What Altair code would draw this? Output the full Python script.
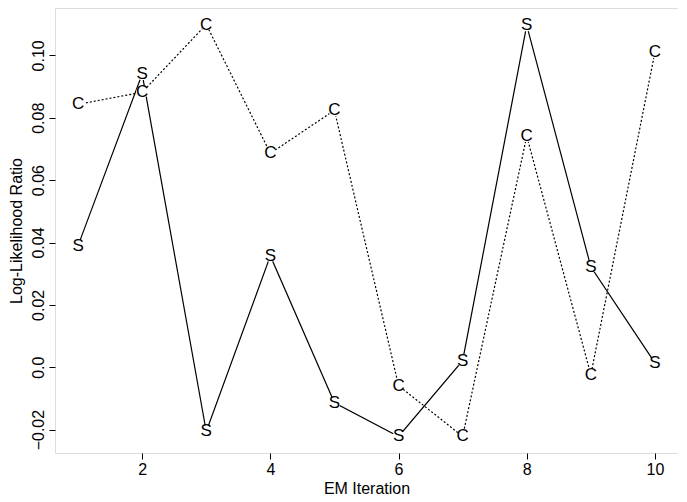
import altair as alt
import pandas as pd

iterations = [1, 2, 3, 4, 5, 6, 7, 8, 9, 10]
s_values = [0.039, 0.094, -0.0206, 0.0357, -0.0114, -0.0222, 0.0021, 0.1096, 0.0322, 0.0014]
c_values = [0.0843, 0.0882, 0.1099, 0.0686, 0.0824, -0.0059, -0.0222, 0.0741, -0.0024, 0.101]
x_ticks = [2, 4, 6, 8, 10]
y_ticks = [-0.02, 0.0, 0.02, 0.04, 0.06, 0.08, 0.10]

df = pd.DataFrame({
    "iteration": iterations * 2,
    "value": s_values + c_values,
    "series": ["S"] * len(iterations) + ["C"] * len(iterations),
})

FONT = "Liberation Sans"

x = alt.X("iteration:Q",
          scale=alt.Scale(domain=[0.64, 10.36], nice=False, zero=False),
          axis=alt.Axis(values=x_ticks, title="EM Iteration", grid=False, domain=False,
                        tickSize=6, tickColor="black", labelPadding=2,
                        labelFont=FONT, labelFontSize=16, labelColor="black",
                        titleFont=FONT, titleFontSize=16, titleFontWeight="normal",
                        titleColor="black", titlePadding=3, labelFlush=False))
y = alt.Y("value:Q",
          scale=alt.Scale(domain=[-0.0275, 0.1152], nice=False, zero=False),
          axis=alt.Axis(values=y_ticks, title="Log-Likelihood Ratio", grid=False, domain=False,
                        tickSize=6, tickColor="black", labelAngle=-90,
                        labelAlign="center", labelBaseline="bottom", labelPadding=3,
                        labelExpr="datum.value == 0 ? '0.0' : format(datum.value, '.2f')",
                        labelFont=FONT, labelFontSize=16, labelColor="black",
                        titleFont=FONT, titleFontSize=16, titleFontWeight="normal",
                        titleColor="black", titlePadding=6, labelFlush=False))

base = alt.Chart(df)

line_s = base.transform_filter(alt.datum.series == "S").mark_line(
    color="black", strokeWidth=1.2).encode(x=x, y=y)
line_c = base.transform_filter(alt.datum.series == "C").mark_line(
    color="black", strokeWidth=1.2, strokeDash=[2, 2]).encode(x=x, y=y)
gaps = base.mark_point(filled=True, color="white", opacity=1, size=150, shape="circle").encode(x=x, y=y)
labels = base.mark_text(font=FONT, fontSize=17, color="black", align="center",
                        baseline="middle").encode(x=x, y=y, text="series:N")

chart = alt.layer(line_s, line_c, gaps, labels).properties(
    width=623, height=445,
    autosize=alt.AutoSizeParams(type="none"),
    padding={"left": 47, "top": 0, "right": 0, "bottom": 49},
).configure_view(stroke="black", strokeWidth=1.2).configure(background="white")

chart.save("out.html", embed_options={"renderer": "svg", "actions": False})
